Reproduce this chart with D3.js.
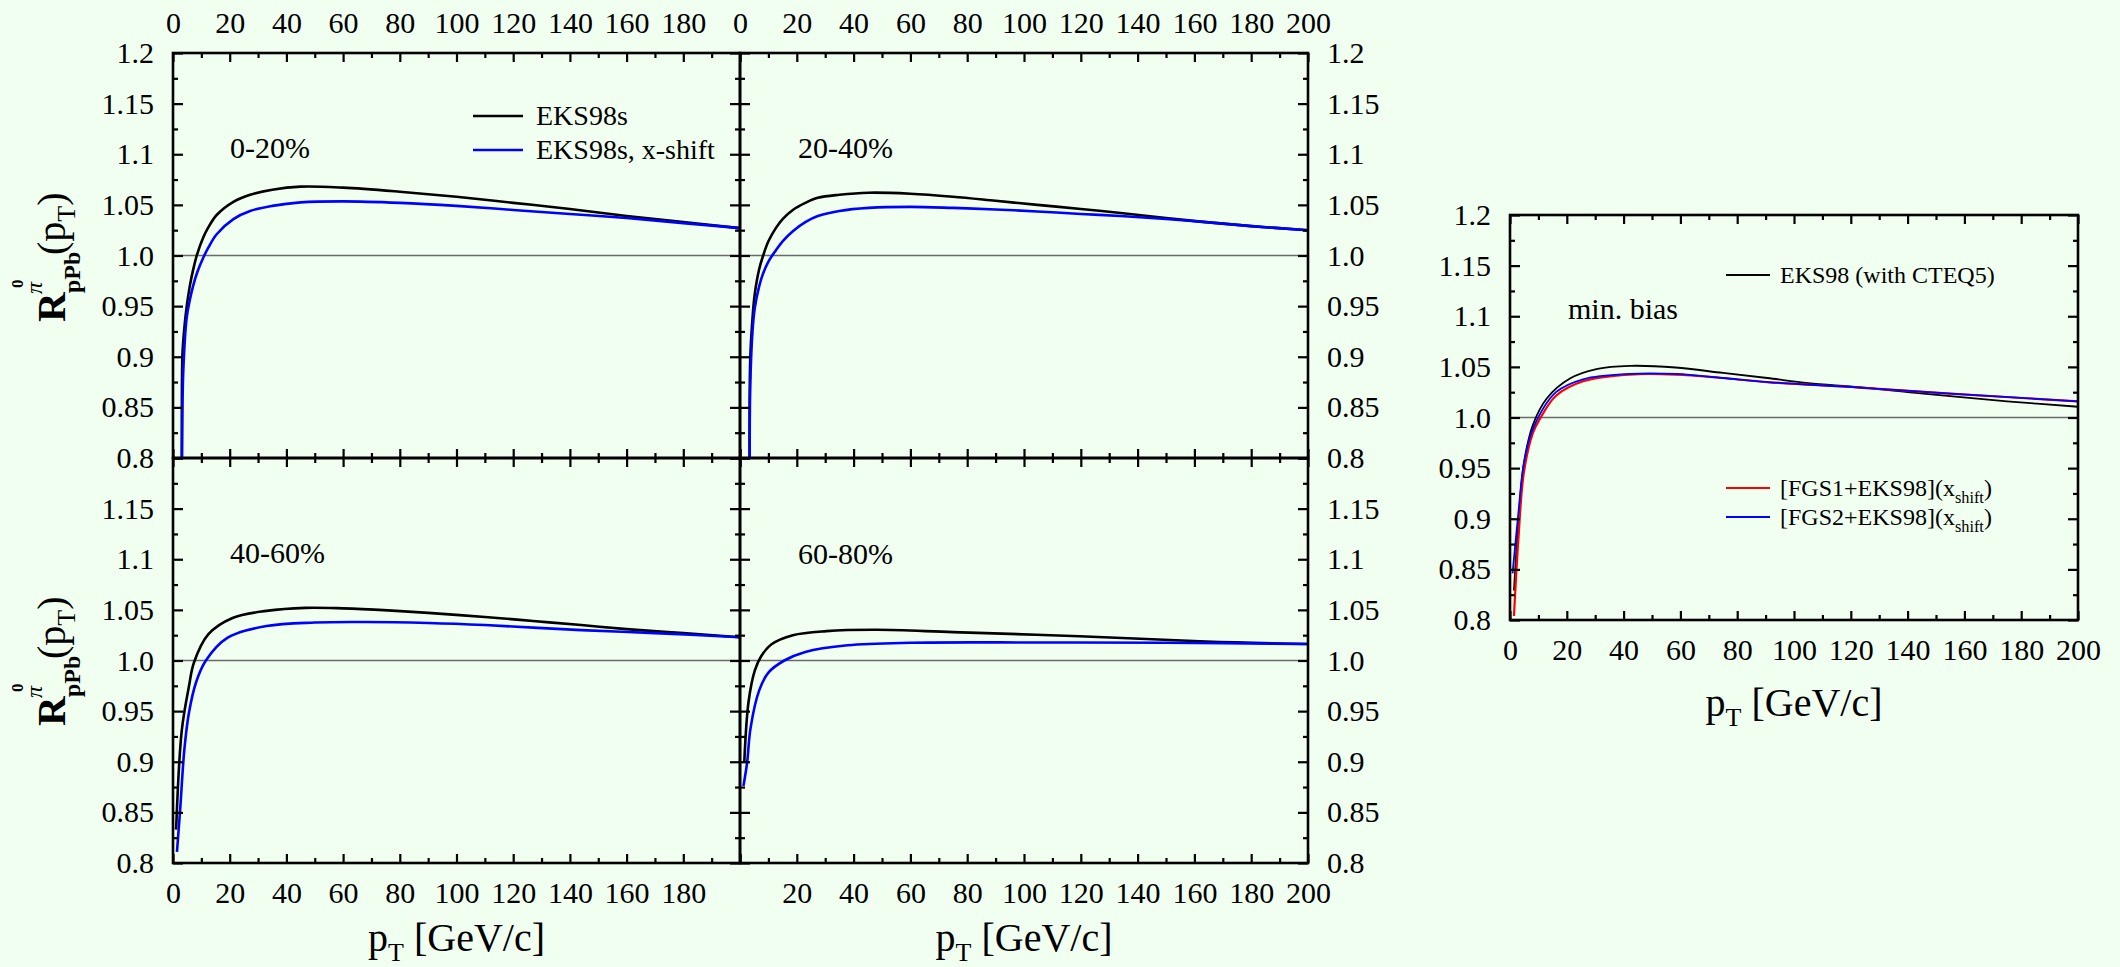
<!DOCTYPE html>
<html>
<head>
<meta charset="utf-8">
<script src="https://cdnjs.cloudflare.com/ajax/libs/d3/7.8.5/d3.min.js"></script>
<style>
  html, body { margin: 0; padding: 0; background: #f0fff0; }
  svg { display: block; }
</style>
</head>
<body>
<svg id="chart" width="2120" height="967"></svg>
<script>
// ---- data (pT in GeV/c, ratio R) ----
var yMajor = [0.8, 0.85, 0.9, 0.95, 1.0, 1.05, 1.1, 1.15, 1.2];
var yMajorText = ["0.8", "0.85", "0.9", "0.95", "1.0", "1.05", "1.1", "1.15", "1.2"];
var yMinor = [0.825, 0.875, 0.925, 0.975, 1.025, 1.075, 1.125, 1.175];
var xMajor = [0, 20, 40, 60, 80, 100, 120, 140, 160, 180, 200];
var xMinor = [10, 30, 50, 70, 90, 110, 130, 150, 170, 190];

// 0-20%
var pt_0_20 = [3.1, 3.3, 3.6, 4.8, 6, 7.2, 8.5, 10.7, 12.5, 15.4, 21.3, 27.2, 35, 45, 60, 80, 100, 120, 140, 160, 180, 200];
var eks_0_20 = [0.78, 0.900, 0.915, 0.949, 0.971, 0.987, 1.001, 1.018, 1.028, 1.040, 1.053, 1.060, 1.065, 1.068, 1.067, 1.063, 1.058, 1.052, 1.046, 1.039, 1.033, 1.027];
var shift_0_20 = [0.76, 0.84, 0.884, 0.938, 0.957, 0.971, 0.983, 0.998, 1.008, 1.021, 1.036, 1.044, 1.049, 1.0525, 1.0535, 1.052, 1.049, 1.045, 1.041, 1.037, 1.032, 1.027];

// 20-40%
var pt_20_40 = [3.4, 3.6, 4.4, 5.2, 6.7, 8.1, 10, 12.6, 15, 18.6, 23, 27.4, 35, 45.3, 60, 75, 90, 104.7, 120, 134, 150, 164, 180, 200];
var eks_20_40 = [0.78, 0.897, 0.938, 0.962, 0.986, 0.9995, 1.014, 1.027, 1.036, 1.045, 1.052, 1.057, 1.060, 1.062, 1.061, 1.058, 1.054, 1.050, 1.046, 1.042, 1.037, 1.033, 1.029, 1.025];
var shift_20_40 = [0.76, 0.87, 0.925, 0.948, 0.969, 0.982, 0.994, 1.005, 1.014, 1.024, 1.033, 1.039, 1.044, 1.047, 1.048, 1.047, 1.0455, 1.0435, 1.041, 1.039, 1.036, 1.033, 1.029, 1.025];

// 40-60%
var ptEks_40_60 = [1.1, 3.1, 5.6, 7.4, 12.5, 21, 33, 46.7, 60, 75.8, 90, 110, 127, 144, 160, 180, 200];
var eks_40_60 = [0.833, 0.931, 0.974, 0.998, 1.026, 1.042, 1.049, 1.052, 1.0515, 1.0495, 1.047, 1.043, 1.039, 1.035, 1.031, 1.027, 1.023];
var ptShift_40_60 = [1.4, 2.6, 4.0, 5.6, 8.2, 11.6, 19.3, 33, 50, 67.6, 90, 110, 144, 170, 200];
var shift_40_60 = [0.811, 0.856, 0.912, 0.948, 0.979, 1.000, 1.0225, 1.034, 1.0375, 1.038, 1.037, 1.035, 1.030, 1.027, 1.023];

// 60-80%
var ptEks_60_80 = [1.5, 3.0, 5.2, 7.4, 11.1, 18.6, 30.4, 48.3, 75, 119.5, 164, 200];
var eks_60_80 = [0.899, 0.959, 0.990, 1.004, 1.016, 1.025, 1.029, 1.0303, 1.028, 1.024, 1.0187, 1.0163];
var ptShift_60_80 = [1.2, 2.5, 3.7, 6.7, 10, 15.6, 23, 37.9, 60, 104.7, 150, 200];
var shift_60_80 = [0.876, 0.899, 0.933, 0.970, 0.988, 1.000, 1.0085, 1.0150, 1.0175, 1.0178, 1.0176, 1.0163];

// min. bias
var ptMb_eks = [1.4, 3.0, 4.9, 8.1, 13, 21.1, 30.8, 42.1, 58.3, 75, 90.6, 105, 123, 140, 155, 175, 200];
var mb_eks = [0.829, 0.899, 0.955, 0.993, 1.019, 1.0385, 1.048, 1.051, 1.0494, 1.044, 1.039, 1.034, 1.030, 1.025, 1.0212, 1.016, 1.0106];
var ptMb_fgs1 = [1.4, 3.0, 4.9, 8.1, 10.6, 16.2, 26, 42.1, 58.3, 75, 90.6, 123, 155, 200];
var mb_fgs1 = [0.804, 0.882, 0.946, 0.985, 0.999, 1.0215, 1.036, 1.0424, 1.0424, 1.039, 1.035, 1.0296, 1.0236, 1.0159];
var ptMb_fgs2 = [0.9, 3.0, 4.9, 8.1, 16.2, 26, 42.1, 58.3, 75, 90.6, 123, 155, 200];
var mb_fgs2 = [0.846, 0.907, 0.955, 0.989, 1.025, 1.038, 1.0431, 1.043, 1.039, 1.035, 1.0296, 1.0236, 1.016];

var FONT = "'Liberation Serif', 'DejaVu Serif', serif";
var FS = 30;
var svg = d3.select("#chart").attr("font-family", FONT);

function zip(xs, ys) {
    return xs.map(function(x, i) { return [x, ys[i]]; });
}

var clipId = 0;

function draw_panel(p) {
    var x = d3.scaleLinear().domain([0, 200]).range([p.x0, p.x1]);
    var y = d3.scaleLinear().domain([0.8, 1.2]).range([p.y1, p.y0]);
    var g = svg.append("g");

    clipId++;
    svg.append("clipPath").attr("id", "clip" + clipId)
        .append("rect")
        .attr("x", p.x0).attr("y", p.y0)
        .attr("width", p.x1 - p.x0).attr("height", p.y1 - p.y0);

    // reference line at 1
    g.append("line")
        .attr("x1", x(0)).attr("x2", x(200))
        .attr("y1", y(1)).attr("y2", y(1))
        .attr("stroke", "#6a6a6a").attr("stroke-width", 1.6);

    var line = d3.line()
        .x(function(d) { return x(d[0]); })
        .y(function(d) { return y(d[1]); })
        .curve(d3.curveCatmullRom.alpha(0.5));

    var cg = g.append("g").attr("clip-path", "url(#clip" + clipId + ")");
    p.curves.forEach(function(c) {
        cg.append("path")
            .datum(zip(c.x, c.y))
            .attr("d", line)
            .attr("fill", "none")
            .attr("stroke", c.color)
            .attr("stroke-width", c.width)
            .attr("stroke-linejoin", "round");
    });

    // ticks: major and minor, pointing inwards on every side
    function labeler(vals, texts, shown) {
        return function(v) {
            var i = vals.indexOf(v);
            if (!shown || shown.indexOf(texts[i]) < 0) return "";
            return texts[i];
        };
    }
    var xText = xMajor.map(String);
    var sides = [
        { fn: d3.axisBottom, s: x, pos: "translate(0," + p.y1 + ")", maj: xMajor, min: xMinor, txt: xText, show: p.bottom, pad: 19, len: 9 },
        { fn: d3.axisTop, s: x, pos: "translate(0," + p.y0 + ")", maj: xMajor, min: xMinor, txt: xText, show: p.top, pad: 20, len: 9 },
        { fn: d3.axisLeft, s: y, pos: "translate(" + p.x0 + ",0)", maj: yMajor, min: yMinor, txt: yMajorText, show: p.left, pad: 19, len: 10 },
        { fn: d3.axisRight, s: y, pos: "translate(" + p.x1 + ",0)", maj: yMajor, min: yMinor, txt: yMajorText, show: p.right, pad: 19, len: 10 }
    ];
    sides.forEach(function(sd) {
        var ax = g.append("g").attr("transform", sd.pos)
            .call(sd.fn(sd.s).tickValues(sd.maj).tickSize(-sd.len).tickPadding(sd.pad)
                .tickFormat(labeler(sd.maj, sd.txt, sd.show)));
        ax.select(".domain").remove();
        ax.attr("font-size", FS).attr("font-family", FONT);
        ax.selectAll("text").attr("fill", "#000").attr("font-family", FONT);
        ax.selectAll("line").attr("stroke", "#000").attr("stroke-width", 2.2);
        var mn = g.append("g").attr("transform", sd.pos)
            .call(sd.fn(sd.s).tickValues(sd.min).tickSize(-5).tickFormat(""));
        mn.select(".domain").remove();
        mn.selectAll("line").attr("stroke", "#000").attr("stroke-width", 2.2);
    });

    g.append("rect")
        .attr("x", p.x0).attr("y", p.y0)
        .attr("width", p.x1 - p.x0).attr("height", p.y1 - p.y0)
        .attr("fill", "none").attr("stroke", "#000").attr("stroke-width", 2.6);

    if (p.label) {
        g.append("text").attr("x", p.label.x).attr("y", p.label.y)
            .attr("font-size", 30).text(p.label.t);
    }
    return { x: x, y: y, g: g };
}

var lx0 = 173, lx1 = 740, lx2 = 1308;
var ty0 = 53, ty1 = 458, ty2 = 863;
var allY = yMajorText;
var noTopY = yMajorText.slice(0, 8);
var x0to180 = xMajor.slice(0, 10).map(String);
var x0to200 = xMajor.map(String);
var x20to200 = xMajor.slice(1).map(String);

var black = "#000000", blue = "#0000ff", red = "#ff0000";

draw_panel({ x0: lx0, x1: lx1, y0: ty0, y1: ty1, top: x0to180, left: allY,
    label: { x: 230, y: 158, t: "0-20%" },
    curves: [ { x: pt_0_20, y: eks_0_20, color: black, width: 2.6 },
              { x: pt_0_20, y: shift_0_20, color: blue, width: 2.6 } ] });
draw_panel({ x0: lx1, x1: lx2, y0: ty0, y1: ty1, top: x0to200, right: allY,
    label: { x: 798, y: 158, t: "20-40%" },
    curves: [ { x: pt_20_40, y: eks_20_40, color: black, width: 2.6 },
              { x: pt_20_40, y: shift_20_40, color: blue, width: 2.6 } ] });
draw_panel({ x0: lx0, x1: lx1, y0: ty1, y1: ty2, bottom: x0to180, left: noTopY,
    label: { x: 230, y: 563, t: "40-60%" },
    curves: [ { x: ptEks_40_60, y: eks_40_60, color: black, width: 2.6 },
              { x: ptShift_40_60, y: shift_40_60, color: blue, width: 2.6 } ] });
draw_panel({ x0: lx1, x1: lx2, y0: ty1, y1: ty2, bottom: x20to200, right: noTopY,
    label: { x: 798, y: 564, t: "60-80%" },
    curves: [ { x: ptEks_60_80, y: eks_60_80, color: black, width: 2.6 },
              { x: ptShift_60_80, y: shift_60_80, color: blue, width: 2.6 } ] });
draw_panel({ x0: 1510, x1: 2078, y0: 215, y1: 620, bottom: x0to200, left: allY,
    label: { x: 1568, y: 319, t: "min. bias" },
    curves: [ { x: ptMb_eks, y: mb_eks, color: black, width: 1.8 },
              { x: ptMb_fgs1, y: mb_fgs1, color: red, width: 2.2 },
              { x: ptMb_fgs2, y: mb_fgs2, color: blue, width: 1.8 } ] });

// legends
function legend_entry(x, y, len, color, width, fs, parts) {
    svg.append("line").attr("x1", x).attr("x2", x + len).attr("y1", y).attr("y2", y)
        .attr("stroke", color).attr("stroke-width", width);
    var t = svg.append("text").attr("x", x + len + (fs > 26 ? 13 : 10)).attr("y", y + fs * 0.33)
        .attr("font-size", fs);
    parts.forEach(function(pt) {
        var ts = t.append("tspan").text(pt.t);
        if (pt.sub) ts.attr("font-size", fs * 0.68).attr("dy", fs * 0.28);
        if (pt.back) ts.attr("dy", -fs * 0.28);
    });
}
legend_entry(473, 116, 50, black, 2.6, 28, [{ t: "EKS98s" }]);
legend_entry(473, 150, 50, blue, 2.6, 28, [{ t: "EKS98s, x-shift" }]);
legend_entry(1726, 275, 44, black, 1.8, 24, [{ t: "EKS98 (with CTEQ5)" }]);
legend_entry(1726, 488, 44, red, 2.2, 24, [{ t: "[FGS1+EKS98](x" }, { t: "shift", sub: true }, { t: ")", back: true }]);
legend_entry(1726, 517, 44, blue, 1.8, 24, [{ t: "[FGS2+EKS98](x" }, { t: "shift", sub: true }, { t: ")", back: true }]);

// axis titles
function y_title(cy) {
    var g = svg.append("g").attr("transform", "translate(65," + (cy + 66) + ") rotate(-90)");
    g.append("text").attr("x", 0).attr("y", 0).attr("font-size", 41).attr("font-weight", "bold").text("R");
    g.append("text").attr("x", 29).attr("y", 15).attr("font-size", 24).attr("font-weight", "bold").text("pPb");
    g.append("text").attr("x", 28).attr("y", -23).attr("font-size", 24).attr("font-style", "italic").text("π");
    g.append("text").attr("x", 34).attr("y", -42).attr("font-size", 17).attr("font-weight", "bold").text("0");
    var t = g.append("text").attr("x", 67).attr("y", 0).attr("font-size", 40);
    t.append("tspan").text("(p");
    t.append("tspan").attr("font-size", 26).attr("dy", 10).text("T");
    t.append("tspan").attr("dy", -10).text(")");
}
y_title(256);
y_title(660);

function x_title(cx, by) {
    var t = svg.append("text").attr("x", cx).attr("y", by).attr("font-size", 40)
        .attr("text-anchor", "middle");
    t.append("tspan").text("p");
    t.append("tspan").attr("font-size", 26).attr("dy", 10).text("T");
    t.append("tspan").attr("dy", -10).text(" [GeV/c]");
}
x_title((lx0 + lx1) / 2, 951);
x_title((lx1 + lx2) / 2, 951);
x_title((1510 + 2078) / 2, 716);
</script>
</body>
</html>
